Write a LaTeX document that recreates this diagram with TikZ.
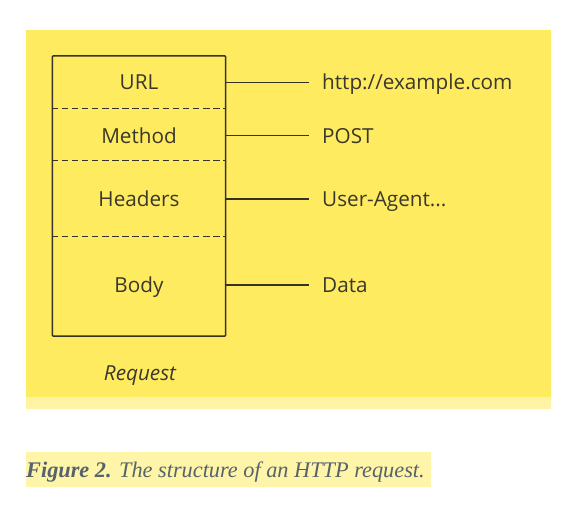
\documentclass[tikz,border=0pt]{standalone}
\usepackage{fontspec}
\setmainfont{Open Sans}
\newfontfamily\capfont{Liberation Serif}
\definecolor{bgyellow}{HTML}{FFEB5F}
\definecolor{stripyellow}{HTML}{FFF4A6}
\definecolor{capbg}{HTML}{FFF5A8}
\definecolor{captext}{HTML}{56626C}
\definecolor{ink}{HTML}{3A382C}
\definecolor{lineink}{HTML}{33332A}
\begin{document}
\begin{tikzpicture}[x=1pt,y=-1pt,
  lbl/.style={font=\fontsize{20.7}{24}\selectfont, text=ink, text height=15pt, text depth=0pt, inner ysep=0pt, inner xsep=0pt},
  val/.style={lbl, anchor=west, inner xsep=0pt},
  conn/.style={draw=lineink, line width=1.5pt},
  sep/.style={draw=lineink, line width=1.5pt, dash pattern=on 6.5pt off 3.6pt},
  boxst/.style={draw=lineink, line width=1.5pt, rounded corners=0.8pt, minimum width=173.4pt, minimum height=280pt, inner sep=0pt}]
\useasboundingbox (0,0) rectangle (575,508);
\fill[white] (0,0) rectangle (575,508);
\fill[bgyellow] (26,30) rectangle (551,397);
\fill[stripyellow] (26,397) rectangle (551,409);
\fill[capbg] (26,452) rectangle (431,487);
% box
\node[boxst] (box) at (139,196) {};
\draw[sep] (box.west |- 0,108.7) -- (box.east |- 0,108.7);
\draw[sep] (box.west |- 0,160.7) -- (box.east |- 0,160.7);
\draw[sep] (box.west |- 0,236.3) -- (box.east |- 0,236.3);
% fields
\node[lbl] (url) at (139,82.5) {URL};
\node[lbl] (method) at (139,135.5) {Method};
\node[lbl] (headers) at (139,199.2) {Headers};
\node[lbl] (body) at (139,285.2) {Body};
% values
\node[val] (urlv) at (322,82.5) {http://example.com};
\node[val] (methodv) at (322,135.5) {POST};
\node[val] (headersv) at (322,199.2) {User-Agent...};
\node[val] (bodyv) at (322,285.2) {Data};
% connectors
\draw[conn] (box.east |- url) -- ([xshift=-13pt]urlv.west);
\draw[conn] (box.east |- method) -- ([xshift=-13pt]methodv.west);
\draw[conn] (box.east |- headers) -- ([xshift=-13pt]headersv.west);
\draw[conn] (box.east |- body) -- ([xshift=-13pt]bodyv.west);
% title
\node[lbl, font=\fontsize{20.7}{24}\selectfont\itshape] (req) at (140,373) {Request};
% caption
\node[anchor=base west, inner sep=0pt, text=captext, font=\capfont\fontsize{22.3}{26}\selectfont\itshape] (cap) at (26,477) {\textbf{Figure 2.} The structure of an HTTP request.};
\end{tikzpicture}
\end{document}
